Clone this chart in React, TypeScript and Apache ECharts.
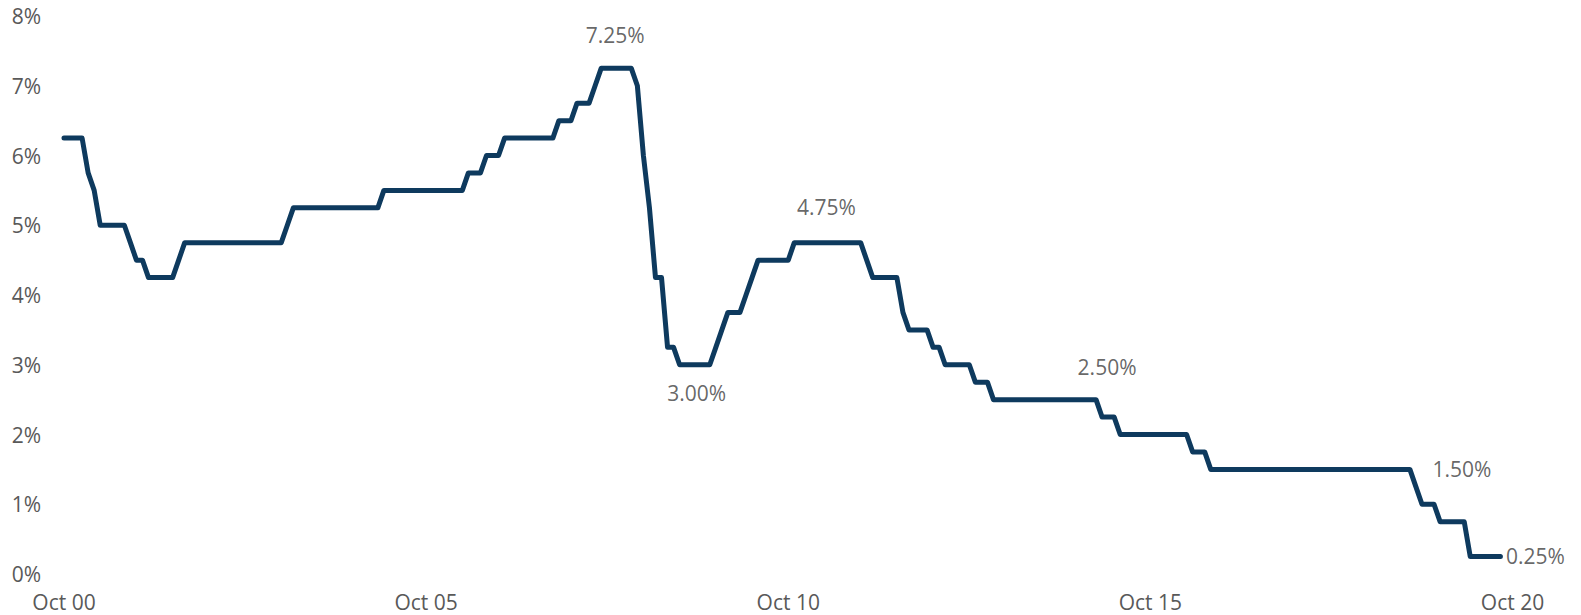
import React, { useEffect, useRef } from "react";
import * as echarts from "echarts";

// Monthly cash rate (%), month-end values, Oct 2000 .. Aug 2020
const rates2000 = [6.25, 6.25, 6.25]; // Oct-Dec
const rates2001 = [6.25, 5.75, 5.5, 5.0, 5.0, 5.0, 5.0, 5.0, 4.75, 4.5, 4.5, 4.25];
const rates2002 = [4.25, 4.25, 4.25, 4.25, 4.5, 4.75, 4.75, 4.75, 4.75, 4.75, 4.75, 4.75];
const rates2003 = [4.75, 4.75, 4.75, 4.75, 4.75, 4.75, 4.75, 4.75, 4.75, 4.75, 5.0, 5.25];
const rates2004 = [5.25, 5.25, 5.25, 5.25, 5.25, 5.25, 5.25, 5.25, 5.25, 5.25, 5.25, 5.25];
const rates2005 = [5.25, 5.25, 5.5, 5.5, 5.5, 5.5, 5.5, 5.5, 5.5, 5.5, 5.5, 5.5];
const rates2006 = [5.5, 5.5, 5.5, 5.5, 5.75, 5.75, 5.75, 6.0, 6.0, 6.0, 6.25, 6.25];
const rates2007 = [6.25, 6.25, 6.25, 6.25, 6.25, 6.25, 6.25, 6.5, 6.5, 6.5, 6.75, 6.75];
const rates2008 = [6.75, 7.0, 7.25, 7.25, 7.25, 7.25, 7.25, 7.25, 7.0, 6.0, 5.25, 4.25];
const rates2009 = [4.25, 3.25, 3.25, 3.0, 3.0, 3.0, 3.0, 3.0, 3.0, 3.25, 3.5, 3.75];
const rates2010 = [3.75, 3.75, 4.0, 4.25, 4.5, 4.5, 4.5, 4.5, 4.5, 4.5, 4.75, 4.75];
const rates2011 = [4.75, 4.75, 4.75, 4.75, 4.75, 4.75, 4.75, 4.75, 4.75, 4.75, 4.5, 4.25];
const rates2012 = [4.25, 4.25, 4.25, 4.25, 3.75, 3.5, 3.5, 3.5, 3.5, 3.25, 3.25, 3.0];
const rates2013 = [3.0, 3.0, 3.0, 3.0, 2.75, 2.75, 2.75, 2.5, 2.5, 2.5, 2.5, 2.5];
const rates2014 = [2.5, 2.5, 2.5, 2.5, 2.5, 2.5, 2.5, 2.5, 2.5, 2.5, 2.5, 2.5];
const rates2015 = [2.5, 2.25, 2.25, 2.25, 2.0, 2.0, 2.0, 2.0, 2.0, 2.0, 2.0, 2.0];
const rates2016 = [2.0, 2.0, 2.0, 2.0, 1.75, 1.75, 1.75, 1.5, 1.5, 1.5, 1.5, 1.5];
const rates2017 = [1.5, 1.5, 1.5, 1.5, 1.5, 1.5, 1.5, 1.5, 1.5, 1.5, 1.5, 1.5];
const rates2018 = [1.5, 1.5, 1.5, 1.5, 1.5, 1.5, 1.5, 1.5, 1.5, 1.5, 1.5, 1.5];
const rates2019 = [1.5, 1.5, 1.5, 1.5, 1.5, 1.25, 1.0, 1.0, 1.0, 0.75, 0.75, 0.75];
const rates2020 = [0.75, 0.75, 0.25, 0.25, 0.25, 0.25, 0.25, 0.25]; // Jan-Aug

const rates = [
  ...rates2000, ...rates2001, ...rates2002, ...rates2003, ...rates2004,
  ...rates2005, ...rates2006, ...rates2007, ...rates2008, ...rates2009,
  ...rates2010, ...rates2011, ...rates2012, ...rates2013, ...rates2014,
  ...rates2015, ...rates2016, ...rates2017, ...rates2018, ...rates2019,
  ...rates2020,
];

// Category axis: months from Oct 00 to Oct 20
const monthNames = ["Jan", "Feb", "Mar", "Apr", "May", "Jun", "Jul", "Aug", "Sep", "Oct", "Nov", "Dec"];
const startYear = 2000;
const startMonth = 9; // October
const monthCount = 241;
const categories: string[] = [];
for (let i = 0; i < monthCount; i++) {
  const m = (startMonth + i) % 12;
  const y = startYear + Math.floor((startMonth + i) / 12);
  categories.push(monthNames[m] + " " + String(y % 100).padStart(2, "0"));
}

const yTicks = [0, 1, 2, 3, 4, 5, 6, 7, 8];

// Annotations
const annotationMonths = ["May 08", "Jul 09", "Apr 11", "Jan 15", "May 19", "Aug 20"];
const annotationTexts = ["7.25%", "3.00%", "4.75%", "2.50%", "1.50%", "0.25%"];

// label offsets (style)
const annotationOffsets: [number, number][] = [
  [2, -33],
  [-1, 28],
  [2, -36],
  [11, -33],
  [52, 0],
  [35, -1],
];

const FONT = "'Open Sans', 'Noto Sans', sans-serif";

export default function App() {
  const ref = useRef<HTMLDivElement>(null);
  useEffect(() => {
    if (!ref.current) return;
    const chart = echarts.init(ref.current, undefined, { renderer: "svg" });
    const annData = annotationMonths.map((mon, k) => {
      const idx = categories.indexOf(mon);
      return {
        value: [idx, rates[idx]],
        label: {
          show: true,
          position: "inside",
          formatter: annotationTexts[k],
          offset: annotationOffsets[k],
        },
      };
    });
    chart.setOption({
      animation: false,
      grid: { left: 64, right: 68.5, top: 16, bottom: 41, containLabel: false },
      xAxis: {
        type: "category",
        data: categories,
        boundaryGap: false,
        axisLine: { show: false },
        axisTick: { show: false },
        splitLine: { show: false },
        axisLabel: {
          interval: 59,
          color: "#595959",
          fontFamily: FONT,
          fontSize: 21,
          margin: 17,
        },
      },
      yAxis: {
        type: "value",
        min: yTicks[0],
        max: yTicks[yTicks.length - 1],
        interval: 1,
        axisLine: { show: false },
        axisTick: { show: false },
        splitLine: { show: false },
        axisLabel: {
          formatter: "{value}%",
          color: "#595959",
          fontFamily: FONT,
          fontSize: 21,
          margin: 23,
        },
      },
      series: [
        {
          type: "line",
          data: rates,
          symbol: "none",
          lineStyle: { color: "#0e3a5e", width: 5, join: "round", cap: "round" },
          itemStyle: { color: "#0e3a5e" },
        },
        {
          type: "scatter",
          data: annData,
          symbolSize: 0,
          silent: true,
          z: 5,
          label: {
            show: true,
            position: "inside",
            color: "#404040",
            fontFamily: FONT,
            fontSize: 21,
          },
        },
      ],
    });
    return () => chart.dispose();
  }, []);
  return (
    <div
      ref={ref}
      style={{ position: "absolute", left: 0, top: 0, width: 1581, height: 615, background: "#fff" }}
    />
  );
}
